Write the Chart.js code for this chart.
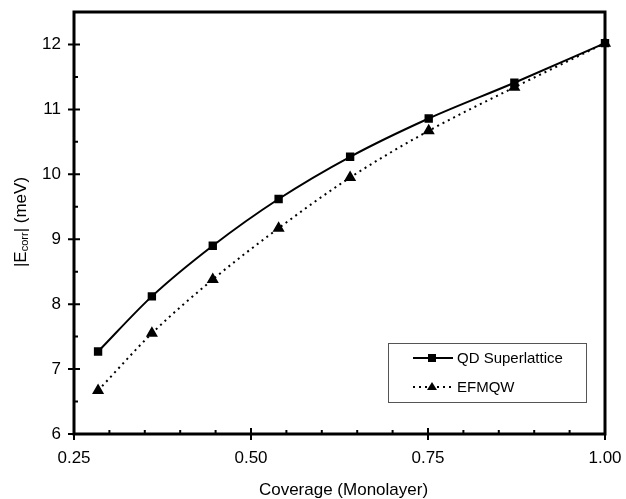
<!DOCTYPE html>
<html><head><meta charset="utf-8">
<script src="https://cdn.jsdelivr.net/npm/chart.js@4/dist/chart.umd.min.js"></script>
<style>html,body{margin:0;padding:0;background:#fff}</style>
</head><body>
<canvas id="c" width="626" height="499" style="display:block;width:626px;height:499px"></canvas>
<script>
const coverage = [0.284, 0.360, 0.446, 0.539, 0.640, 0.751, 0.872, 1.000];
const qdSuperlattice = [7.27, 8.12, 8.90, 9.62, 10.27, 10.86, 11.41, 12.02];
const efmqw = [6.67, 7.55, 8.38, 9.17, 9.95, 10.67, 11.34, 12.02];
const xTicks = [0.25, 0.50, 0.75, 1.00];
const xMinorTicks = [0.30,0.35,0.40,0.45,0.55,0.60,0.65,0.70,0.80,0.85,0.90,0.95];
const yTicks = [6, 7, 8, 9, 10, 11, 12];
const yMinorTicks = [6.5, 7.5, 8.5, 9.5, 10.5, 11.5];
const seriesNames = ['QD Superlattice', 'EFMQW'];
const xTitle = 'Coverage (Monolayer)';

const FONT = '"Liberation Sans", Arial, sans-serif';

const framePlugin = {
  id: 'frame',
  afterDatasetsDraw(chart) {
    const ctx = chart.ctx, a = chart.chartArea;
    const xs = chart.scales.x, ys = chart.scales.y;
    ctx.save();
    ctx.strokeStyle = '#000';
    ctx.lineWidth = 3;
    ctx.strokeRect(a.left, a.top, a.right - a.left, a.bottom - a.top);
    ctx.lineWidth = 2;
    ctx.beginPath();
    xTicks.forEach(v => { const p = xs.getPixelForValue(v); ctx.moveTo(p, a.bottom - 6); ctx.lineTo(p, a.bottom + 6); });
    xMinorTicks.forEach(v => { const p = xs.getPixelForValue(v); ctx.moveTo(p, a.bottom - 4); ctx.lineTo(p, a.bottom); });
    yTicks.forEach(v => { const p = ys.getPixelForValue(v); ctx.moveTo(a.left - 6, p); ctx.lineTo(a.left + 6, p); });
    yMinorTicks.forEach(v => { const p = ys.getPixelForValue(v); ctx.moveTo(a.left, p); ctx.lineTo(a.left + 4, p); });
    ctx.stroke();

    ctx.fillStyle = '#000';
    ctx.font = '17px ' + FONT;
    ctx.textAlign = 'center';
    ctx.textBaseline = 'middle';
    ctx.fillText(xTitle, (a.left + a.right) / 2 + 4, 490);

    ctx.save();
    ctx.translate(21, 222);
    ctx.rotate(-Math.PI / 2);
    const big = '17px ' + FONT, small = '11px ' + FONT;
    const parts = [['|E', big, 0], ['corr', small, 4], ['| (meV)', big, 0]];
    let total = 0;
    parts.forEach(p => { ctx.font = p[1]; total += ctx.measureText(p[0]).width; });
    let x = -total / 2;
    ctx.textAlign = 'left';
    ctx.textBaseline = 'middle';
    parts.forEach(p => { ctx.font = p[1]; ctx.fillText(p[0], x, p[2]); x += ctx.measureText(p[0]).width; });
    ctx.restore();

    const bx = 388, by = 343, bw = 198, bh = 59;
    ctx.fillStyle = '#fff';
    ctx.fillRect(bx, by, bw, bh);
    ctx.strokeStyle = '#555';
    ctx.lineWidth = 1;
    ctx.strokeRect(bx + 0.5, by + 0.5, bw, bh);
    const rows = [358, 387];
    ctx.strokeStyle = '#000';
    ctx.fillStyle = '#000';
    ctx.lineWidth = 2;
    ctx.setLineDash([]);
    ctx.beginPath(); ctx.moveTo(413, rows[0]); ctx.lineTo(453, rows[0]); ctx.stroke();
    ctx.fillRect(428, rows[0] - 4, 8, 8);
    ctx.setLineDash([2, 4]);
    ctx.beginPath(); ctx.moveTo(413, rows[1]); ctx.lineTo(453, rows[1]); ctx.stroke();
    ctx.setLineDash([]);
    ctx.beginPath();
    ctx.moveTo(432, rows[1] - 5); ctx.lineTo(437, rows[1] + 3); ctx.lineTo(427, rows[1] + 3); ctx.closePath(); ctx.fill();
    ctx.font = '15px ' + FONT;
    ctx.textAlign = 'left';
    ctx.textBaseline = 'middle';
    ctx.fillText(seriesNames[0], 457, rows[0] + 1);
    ctx.fillText(seriesNames[1], 457, rows[1] + 1);
    ctx.restore();
  }
};

new Chart(document.getElementById('c'), {
  type: 'line',
  data: {
    datasets: [
      {
        label: seriesNames[0],
        data: coverage.map((x, i) => ({ x, y: qdSuperlattice[i] })),
        borderColor: '#000', backgroundColor: '#000', borderWidth: 2,
        pointStyle: 'rect', pointRadius: 4.5, pointHoverRadius: 4.5,
        cubicInterpolationMode: 'monotone', clip: false
      },
      {
        label: seriesNames[1],
        data: coverage.map((x, i) => ({ x, y: efmqw[i] })),
        borderColor: '#000', backgroundColor: '#000', borderWidth: 2,
        borderDash: [2, 4],
        pointStyle: 'triangle', pointRadius: 5, pointHoverRadius: 5,
        cubicInterpolationMode: 'monotone', clip: false
      }
    ]
  },
  options: {
    responsive: false,
    animation: false,
    devicePixelRatio: 1,
    layout: { padding: { left: 0, right: 21, top: 12, bottom: 0 } },
    plugins: { legend: { display: false }, tooltip: { enabled: false } },
    scales: {
      x: {
        type: 'linear', min: 0.25, max: 1.0,
        afterBuildTicks: s => { s.ticks = xTicks.map(v => ({ value: v })); },
        afterFit: s => { s.height = 65; s.paddingLeft = 0; s.paddingRight = 0; },
        grid: { display: false, drawTicks: false },
        border: { display: false },
        ticks: { color: '#000', font: { family: FONT, size: 17 }, padding: 14, maxRotation: 0,
                 callback: v => Number(v).toFixed(2) }
      },
      y: {
        type: 'linear', min: 6, max: 12.5,
        afterBuildTicks: s => { s.ticks = yTicks.map(v => ({ value: v })); },
        afterFit: s => { s.width = 74; s.paddingTop = 0; s.paddingBottom = 0; },
        grid: { display: false, drawTicks: false },
        border: { display: false },
        ticks: { color: '#000', font: { family: FONT, size: 17 }, padding: 13,
                 callback: v => String(v) }
      }
    }
  },
  plugins: [framePlugin]
});
</script>
</body></html>
